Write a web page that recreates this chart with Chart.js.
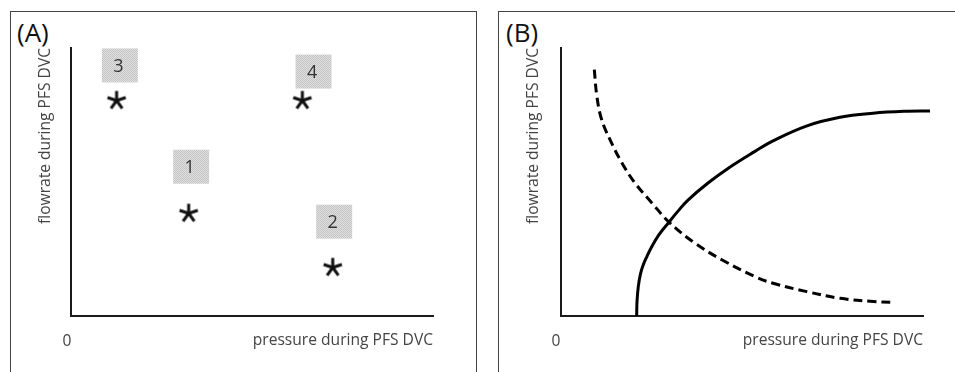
<!DOCTYPE html>
<html>
<head>
<meta charset="utf-8">
<script src="https://cdn.jsdelivr.net/npm/chart.js@4/dist/chart.umd.min.js"></script>
<style>
  html, body { margin: 0; padding: 0; background: #fff; }
  body { width: 955px; height: 372px; position: relative; overflow: hidden; font-family: "Open Sans", "Noto Sans", sans-serif; }
  .panel { position: absolute; border: 1.5px solid #444; box-sizing: border-box; }
  #panelA { left: 10px; top: 11px; width: 467px; height: 380px; }
  #panelB { left: 498px; top: 11px; width: 470px; height: 380px; }
  .tag { position: absolute; font-size: 26px; color: #111; line-height: 1; }
  canvas { position: absolute; top: 0; }
</style>
</head>
<body>
<div class="panel" id="panelA"></div>
<div class="panel" id="panelB"></div>
<div class="tag" style="left:17px; top:19px;">(A)</div>
<div class="tag" style="left:506px; top:19px;">(B)</div>
<canvas id="cA" width="480" height="372" style="left:0px;"></canvas>
<canvas id="cB" width="475" height="372" style="left:480px;"></canvas>
<script>
// ---------- data ----------
const xTitle = "pressure during PFS DVC";
const yTitle = "flowrate during PFS DVC";
const xTickLabels = ["0"];

// Panel A: four measurements (asterisks) and their numbered tags
const caseIds   = ["1", "2", "3", "4"];
const casePressure = [32.5, 72.3, 12.6, 63.9];
const caseFlow     = [38.3, 18.1, 80.4, 80.4];
const tagPressure  = [33.2, 72.7, 13.5, 67.0];
const tagFlow      = [55.7, 35.2, 93.5, 91.2];

// Panel B: solid curve (rising) and dashed curve (falling)
const solidPressure = [20.9, 21.0, 21.35, 21.96, 22.73, 23.76, 25.06, 27.07, 29.64, 32.32, 35.08, 40.61, 46.13, 53.59, 58.56, 67.96, 77.07, 86.19, 95.58, 101.93];
const solidFlow     = [0.0, 5.43, 10.97, 15.73, 19.10, 22.28, 25.84, 30.34, 34.72, 39.14, 43.26, 49.63, 55.06, 61.42, 65.36, 70.97, 74.16, 75.66, 76.40, 76.52];
const dashPressure  = [9.2, 9.9, 11.2, 13.5, 16.8, 20.4, 25.1, 30.1, 37.0, 44.4, 53.6, 58.6, 67.9, 77.1, 86.3, 91.4];
const dashFlow      = [91.9, 82.1, 73.4, 65.9, 57.2, 49.7, 42.2, 34.7, 27.2, 21.0, 14.7, 12.2, 9.1, 6.6, 5.4, 5.1];

// ---------- helpers ----------
const FONT = '"Open Sans", "Noto Sans", sans-serif';
const TXT = '#444';
const AXIS = '#1a1a1a';
const FS = 15.6;

function pts(xs, ys) { return xs.map((x, i) => ({ x: x, y: ys[i] })); }

// asterisk glyph used as the point style
function makeAsterisk() {
  const c = document.createElement('canvas');
  c.width = 26; c.height = 26;
  const g = c.getContext('2d');
  g.strokeStyle = '#111';
  g.lineWidth = 3;
  g.lineCap = 'butt';
  const r = 9.6;
  for (let k = 0; k < 5; k++) {
    const a = -Math.PI / 2 + k * 2 * Math.PI / 5;
    g.beginPath();
    g.moveTo(13, 13);
    g.lineTo(13 + r * Math.cos(a), 13 + r * Math.sin(a));
    g.stroke();
  }
  return c;
}

// dotted grey texture for the tags
function makePattern(ctx) {
  const c = document.createElement('canvas');
  c.width = 2; c.height = 2;
  const g = c.getContext('2d');
  g.fillStyle = '#e0e0e0'; g.fillRect(0, 0, 2, 2);
  g.fillStyle = '#c4c4c4'; g.fillRect(0, 0, 1, 1); g.fillRect(1, 1, 1, 1);
  return ctx.createPattern(c, 'repeat');
}

const tagPlugin = {
  id: 'tags',
  afterDatasetsDraw(chart) {
    const ctx = chart.ctx;
    const xs = chart.scales.x, ys = chart.scales.y;
    const pat = makePattern(ctx);
    ctx.save();
    caseIds.forEach((id, i) => {
      const cx = xs.getPixelForValue(tagPressure[i]);
      const cy = ys.getPixelForValue(tagFlow[i]);
      const w = 36, h = 34;
      ctx.fillStyle = pat;
      ctx.fillRect(cx - w / 2, cy - h / 2, w, h);
      ctx.fillStyle = '#333';
      ctx.font = '18px ' + FONT;
      ctx.textAlign = 'center';
      ctx.textBaseline = 'middle';
      ctx.fillText(id, cx - 1.5, cy + 1);
    });
    ctx.restore();
  }
};

function axes(yWidth, yTitlePad, labelOff) {
  return {
    x: {
      type: 'linear', min: 0, max: 100,
      grid: { display: false, drawTicks: false },
      border: { display: true, color: AXIS, width: 2 },
      afterBuildTicks: s => { s.ticks = xTickLabels.map(t => ({ value: Number(t) })); },
      ticks: { color: TXT, font: { family: FONT, size: FS }, padding: 16, labelOffset: labelOff,
               callback: (v) => xTickLabels.includes(String(v)) ? String(v) : '' },
      title: { display: true, text: xTitle, align: 'end', color: TXT,
               font: { family: FONT, size: FS }, padding: { top: 0, bottom: 22 } },
      afterFit: s => { s.height = 56; }
    },
    y: {
      type: 'linear', min: 0, max: 100,
      grid: { display: false, drawTicks: false },
      border: { display: true, color: AXIS, width: 2 },
      ticks: { display: false },
      title: { display: true, text: yTitle, align: 'end', color: TXT,
               font: { family: FONT, size: FS }, padding: { top: yTitlePad, bottom: 0 } },
      afterFit: s => { s.width = yWidth; }
    }
  };
}

const common = {
  responsive: false,
  animation: false,
  plugins: { legend: { display: false }, tooltip: { enabled: false } },
  events: []
};

new Chart(document.getElementById('cA'), {
  type: 'scatter',
  data: {
    datasets: [{
      label: 'cases',
      data: pts(casePressure, caseFlow),
      pointStyle: makeAsterisk(),
      pointRadius: 10
    }]
  },
  options: Object.assign({}, common, {
    layout: { padding: { top: 48, left: 28, right: 47, bottom: 0 } },
    scales: axes(43, 8, -4)
  }),
  plugins: [tagPlugin]
});

new Chart(document.getElementById('cB'), {
  type: 'scatter',
  data: {
    datasets: [{
      label: 'solid',
      data: pts(solidPressure, solidFlow),
      showLine: true, borderColor: '#000', borderWidth: 3,
      pointRadius: 0, tension: 0.4, clip: false
    }, {
      label: 'dashed',
      data: pts(dashPressure, dashFlow),
      showLine: true, borderColor: '#000', borderWidth: 3, borderDash: [9, 5],
      pointRadius: 0, tension: 0.4, clip: false
    }]
  },
  options: Object.assign({}, common, {
    layout: { padding: { top: 48, left: 36, right: 32, bottom: 0 } },
    scales: axes(45, 8.5, -5)
  })
});
</script>
</body>
</html>
